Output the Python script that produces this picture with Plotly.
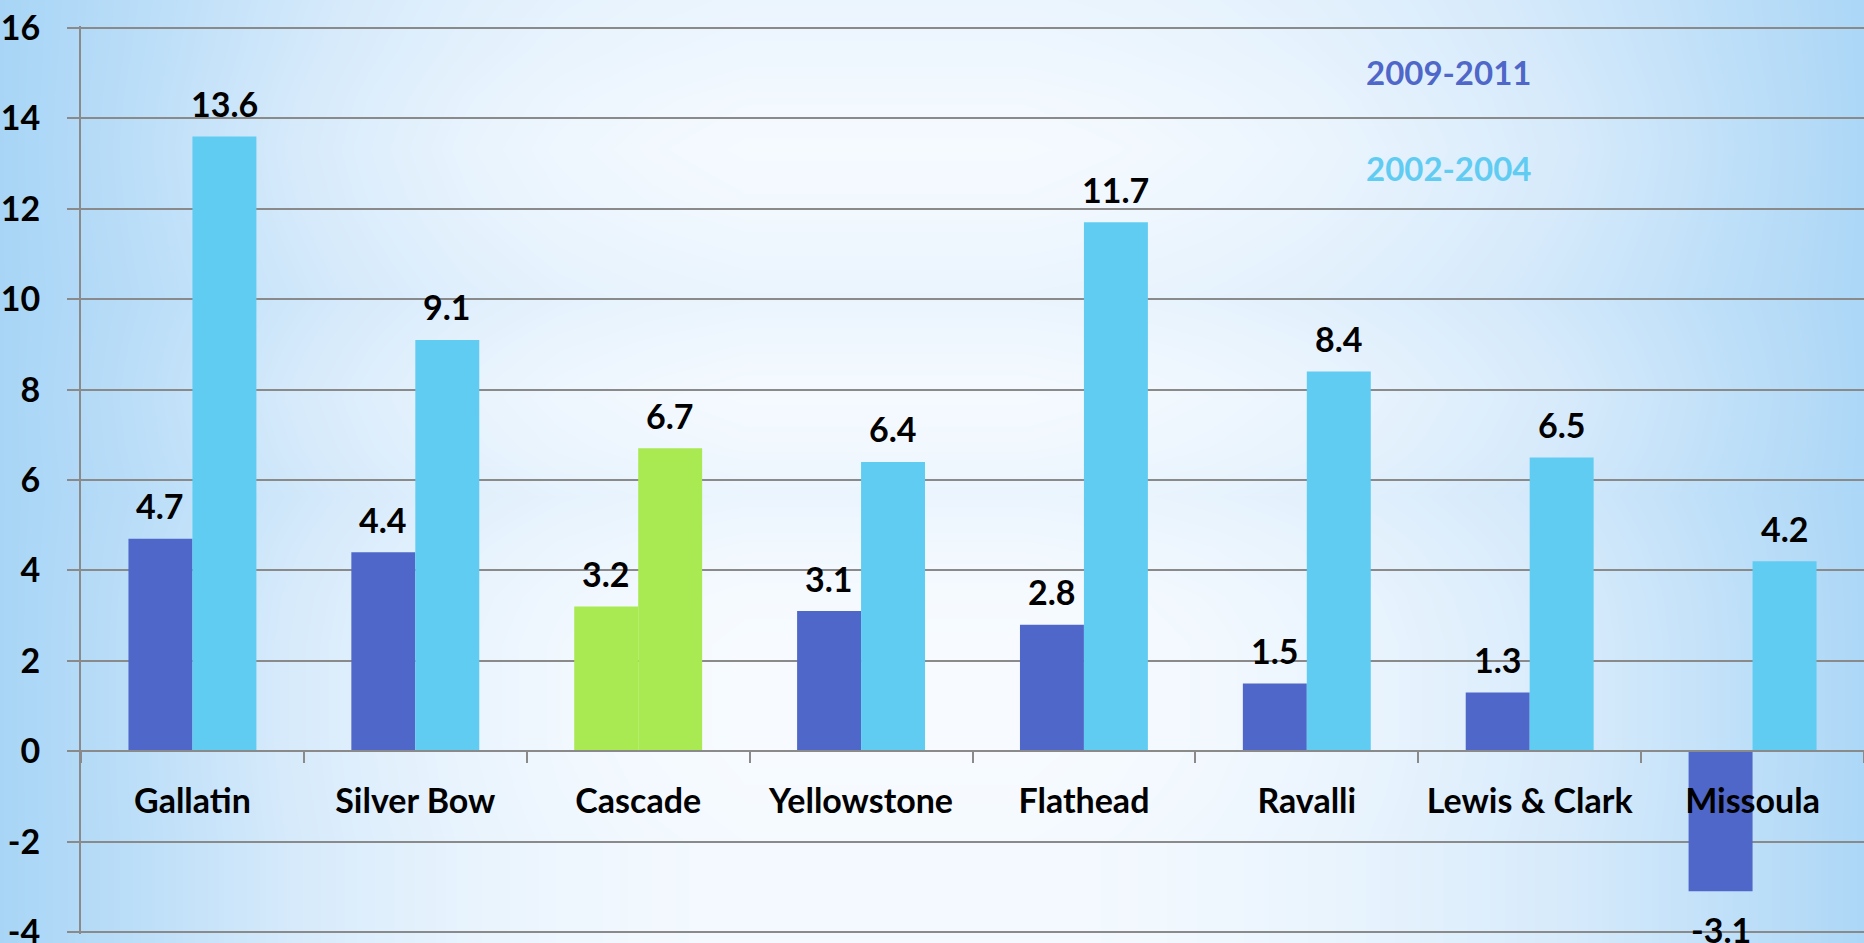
import plotly.graph_objects as go

# ---------------- data ----------------
counties = ["Gallatin", "Silver Bow", "Cascade", "Yellowstone", "Flathead",
            "Ravalli", "Lewis & Clark", "Missoula"]
recent = [4.7, 4.4, 3.2, 3.1, 2.8, 1.5, 1.3, -3.1]       # 2009-2011
earlier = [13.6, 9.1, 6.7, 6.4, 11.7, 8.4, 6.5, 4.2]     # 2002-2004
series_names = ["2009-2011", "2002-2004"]
highlight = "Cascade"
y_ticks = list(range(-4, 17, 2))
y_tick_text = [str(v) for v in y_ticks]

# ---------------- style ----------------
W, H = 1864, 943
DARK = "#4F67C8"
LIGHT = "#60CCF2"
GREEN = "#A9EA52"
GRID = "#8A8A8A"
FONT = "Lato"
FS = 34

# axis geometry in pixels: value 16 at y=28, value -4 at y=932
px_top, px_bot = 28, 932
v_top, v_bot = 16, -4
pad = 0.05
ppu = (px_bot - px_top) / (v_top - v_bot)
y_range = [v_bot - pad, v_top + pad]
y_dom = [(H - (px_bot + pad * ppu)) / H, (H - (px_top - pad * ppu)) / H]
x_dom = [81 / W, 1.0]
zero_pos = y_dom[0] + (0 - y_range[0]) / (y_range[1] - y_range[0]) * (y_dom[1] - y_dom[0])

# background profile (style only)
h_profile = [1.0, 0.85, 0.68, 0.5, 0.34, 0.2, 0.1, 0.04, 0.0, 0.0, 0.0, 0.0,
             0.03, 0.08, 0.15, 0.25, 0.37, 0.5, 0.65, 0.8, 0.95]
v_profile = [0.2, 0.15, 0.08, 0.04, 0.08, 0.15, 0.22, 0.12, 0.04, 0.1, 0.2, 0.1,
             0.03, 0.0, 0.0, 0.0, 0.02, 0.05, 0.05, 0.05]
z_bg = [[min(1.0, h + v * (1 - h) * 0.9) for h in h_profile] for v in v_profile]

fig = go.Figure()
fig.add_trace(go.Heatmap(
    z=z_bg, x=list(range(len(h_profile))), y=list(range(len(v_profile))),
    colorscale=[[0, "#F7FBFF"], [0.5, "#D6EAFB"], [1, "#A8D5F6"]],
    zmin=0, zmax=1, zsmooth="best", showscale=False, hoverinfo="skip",
    xaxis="x", yaxis="y"))

dark_colors = [GREEN if c == highlight else DARK for c in counties]
light_colors = [GREEN if c == highlight else LIGHT for c in counties]

fig.add_trace(go.Bar(x=counties, y=recent, name=series_names[0],
                     marker=dict(color=dark_colors, line=dict(width=0)),
                     xaxis="x2", yaxis="y2", hoverinfo="skip"))
fig.add_trace(go.Bar(x=counties, y=earlier, name=series_names[1],
                     marker=dict(color=light_colors, line=dict(width=0)),
                     xaxis="x2", yaxis="y2", hoverinfo="skip"))

label_font = dict(family=FONT, size=FS, color="black", weight="bold")
ann = []
for vals, shift in ((recent, -32), (earlier, 32)):
    for c, v in zip(counties, vals):
        ann.append(dict(x=c, y=v, xref="x2", yref="y2", text=f"{v:.1f}", showarrow=False,
                        xshift=shift, yshift=33 if v >= 0 else -38, yanchor="middle",
                        font=label_font))
ann.append(dict(x=1364 / W, y=1 - 72 / H, xref="paper", yref="paper", text=series_names[0],
                showarrow=False, xanchor="left", yanchor="middle",
                font=dict(family=FONT, size=33, color=DARK, weight="bold")))
ann.append(dict(x=1364 / W, y=1 - 168 / H, xref="paper", yref="paper", text=series_names[1],
                showarrow=False, xanchor="left", yanchor="middle",
                font=dict(family=FONT, size=33, color=LIGHT, weight="bold")))

fig.update_layout(
    width=W, height=H,
    margin=dict(l=0, r=0, t=0, b=0, autoexpand=False),
    paper_bgcolor="white", plot_bgcolor="rgba(0,0,0,0)",
    showlegend=False,
    barmode="group", bargap=0.426, bargroupgap=0,
    xaxis=dict(domain=[0, 1], visible=False, fixedrange=True, automargin=False,
               range=[0, len(h_profile) - 1]),
    yaxis=dict(domain=[0, 1], visible=False, fixedrange=True, automargin=False,
               range=[len(v_profile) - 1, 0]),
    xaxis2=dict(domain=x_dom, anchor="free", position=zero_pos, automargin=False,
                showline=True, linecolor=GRID, linewidth=2,
                ticks="outside", ticklen=11, tickwidth=2, tickcolor=GRID,
                tickson="boundaries", showgrid=False,
                tickfont=label_font, ticklabelstandoff=20),
    yaxis2=dict(domain=y_dom, anchor="x2", range=y_range, automargin=False,
                tickvals=y_ticks, ticktext=y_tick_text, ticklabeloverflow="allow",
                showgrid=True, gridcolor=GRID, gridwidth=2,
                zeroline=True, zerolinecolor=GRID, zerolinewidth=2,
                showline=True, linecolor=GRID, linewidth=2,
                ticks="outside", ticklen=12, tickwidth=2, tickcolor=GRID,
                tickfont=label_font, ticklabelstandoff=20),
    annotations=ann,
)

fig.write_html("out.html", config={"displayModeBar": False},
               post_script="document.body.style.margin='0';document.body.style.overflow='hidden';")
